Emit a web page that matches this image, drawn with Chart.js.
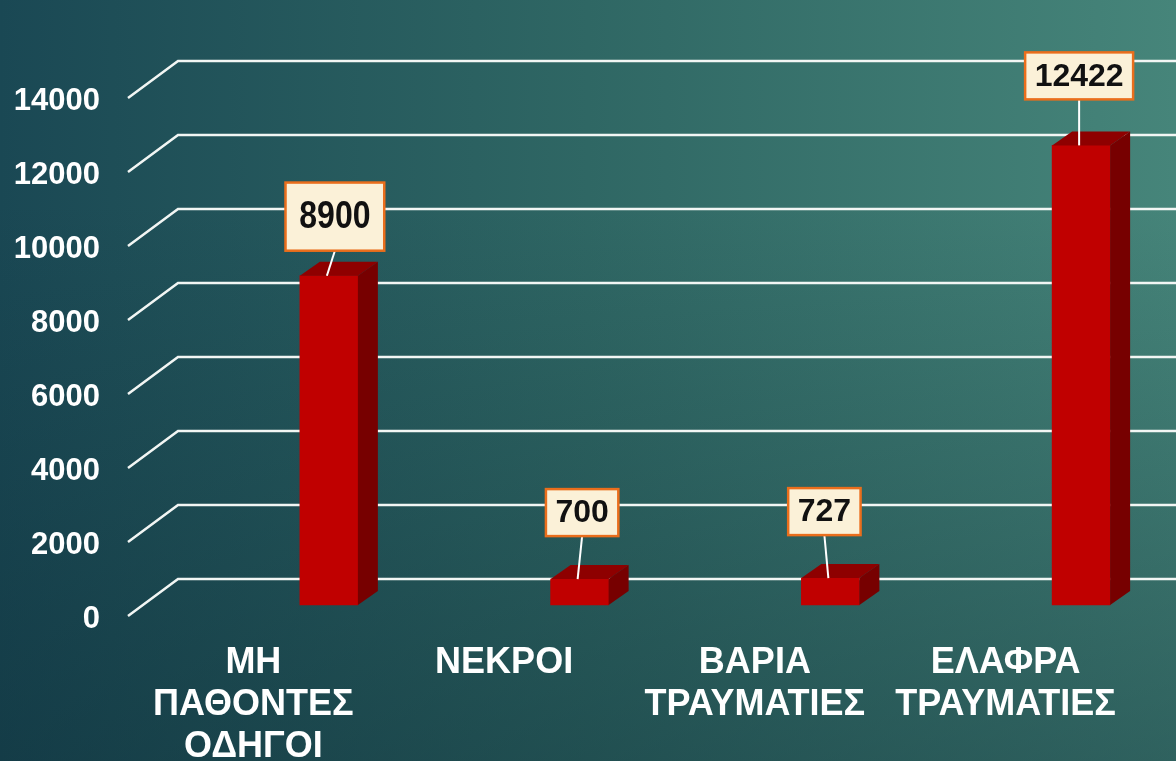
<!DOCTYPE html>
<html>
<head>
<meta charset="utf-8">
<script src="https://cdn.jsdelivr.net/npm/chart.js@4.4.1/dist/chart.umd.min.js"></script>
<style>
  html, body { margin: 0; padding: 0; background: #1d4d57; }
  canvas { display: block; }
</style>
</head>
<body>
<canvas id="chart" width="1176" height="761"></canvas>
<script>
// data
const categories = [
  ["ΜΗ", "ΠΑΘΟΝΤΕΣ", "ΟΔΗΓΟΙ"],
  ["ΝΕΚΡΟΙ"],
  ["ΒΑΡΙΑ", "ΤΡΑΥΜΑΤΙΕΣ"],
  ["ΕΛΑΦΡΑ", "ΤΡΑΥΜΑΤΙΕΣ"],
];
const values = [8900, 700, 727, 12422];
const yTicks = [0, 2000, 4000, 6000, 8000, 10000, 12000, 14000];
const yTickLabels = ["0", "2000", "4000", "6000", "8000", "10000", "12000", "14000"];

const FONT = '"Liberation Sans", Arial, sans-serif';

// fake 3d: back wall grid, bar tops/sides and callout boxes
const bar3d = {
  id: "bar3d",
  beforeDraw(chart) {
    const { ctx, width, height } = chart;
    ctx.save();
    let g = ctx.createLinearGradient(0, 0, width, 0);
    g.addColorStop(0, "#1a4854");
    g.addColorStop(0.5, "#2f6764");
    g.addColorStop(1, "#46857a");
    ctx.fillStyle = g;
    ctx.fillRect(0, 0, width, height);
    g = ctx.createLinearGradient(0, 200, 0, height);
    g.addColorStop(0, "rgba(10,40,50,0)");
    g.addColorStop(1, "rgba(10,40,50,0.38)");
    ctx.fillStyle = g;
    ctx.fillRect(0, 0, width, height);
    ctx.restore();
  },
  beforeDatasetsDraw(chart, args, opts) {
    const { ctx, chartArea } = chart;
    const y = chart.scales.y;
    ctx.save();
    ctx.strokeStyle = "#f2f6f4";
    ctx.lineWidth = 2.5;
    y.ticks.forEach((t) => {
      const yb = y.getPixelForValue(t.value);
      ctx.beginPath();
      ctx.moveTo(chartArea.left, yb + opts.front);
      ctx.lineTo(chartArea.left + opts.wallX, yb - opts.back);
      ctx.lineTo(chart.width, yb - opts.back);
      ctx.stroke();
    });
    ctx.restore();
    // shift the bars to the right inside their category
    ctx.save();
    ctx.translate(opts.shift, 0);
  },
  afterDatasetsDraw(chart, args, opts) {
    const { ctx } = chart;
    const meta = chart.getDatasetMeta(0);
    const dx = opts.depthX, dy = opts.depthY;
    meta.data.forEach((bar, i) => {
      const l = bar.x - bar.width / 2, r = bar.x + bar.width / 2;
      const top = bar.y, base = bar.base;
      ctx.fillStyle = "#8e0000";
      ctx.beginPath();
      ctx.moveTo(l, top);
      ctx.lineTo(r, top);
      ctx.lineTo(r + dx, top - dy);
      ctx.lineTo(l + dx, top - dy);
      ctx.closePath();
      ctx.fill();
      ctx.fillStyle = "#770000";
      ctx.beginPath();
      ctx.moveTo(r, top);
      ctx.lineTo(r + dx, top - dy);
      ctx.lineTo(r + dx, base - dy);
      ctx.lineTo(r, base);
      ctx.closePath();
      ctx.fill();
    });

    // callouts
    meta.data.forEach((bar, i) => {
      const lo = opts.labels[i];
      const txt = String(chart.data.datasets[0].data[i]);
      ctx.font = "bold 32px " + FONT;
      const tw = ctx.measureText(txt).width;
      const padX = 9.5 * lo.box, h = 47 * lo.box;
      const w = tw + 2 * padX;
      const cx = bar.x + lo.dx;
      const bottom = bar.y - lo.gap;
      const top = bottom - h;
      ctx.strokeStyle = "#ffffff";
      ctx.lineWidth = 2;
      ctx.beginPath();
      ctx.moveTo(cx, bottom);
      ctx.lineTo(bar.x - 2, bar.y);
      ctx.stroke();
      ctx.fillStyle = "#fbf1d8";
      ctx.fillRect(cx - w / 2, top, w, h);
      ctx.strokeStyle = "#ea6e1c";
      ctx.lineWidth = 2.5;
      ctx.strokeRect(cx - w / 2, top, w, h);
      ctx.save();
      ctx.translate(cx, top + h / 2 + 1);
      ctx.scale(1, lo.text);
      ctx.fillStyle = "#111111";
      ctx.textAlign = "center";
      ctx.textBaseline = "middle";
      ctx.fillText(txt, 0, 0);
      ctx.restore();
    });
    ctx.restore();
  },
};

new Chart(document.getElementById("chart"), {
  type: "bar",
  data: {
    labels: categories,
    datasets: [
      {
        data: values,
        backgroundColor: "#c00000",
        borderWidth: 0,
        barThickness: 58,
        clip: false,
      },
    ],
  },
  plugins: [bar3d],
  options: {
    responsive: false,
    animation: false,
    layout: { padding: { top: 87, right: 45, left: 0, bottom: 0 } },
    plugins: {
      legend: { display: false },
      tooltip: { enabled: false },
      bar3d: {
        shift: 75.5,
        wallX: 50,
        front: 11,
        back: 26,
        depthX: 20,
        depthY: 14,
        labels: [
          { dx: 6, gap: 25, box: 1.45, text: 1.22 },
          { dx: 2.5, gap: 43, box: 1, text: 1 },
          { dx: -6, gap: 43, box: 1, text: 1 },
          { dx: -2, gap: 46, box: 1, text: 1 },
        ],
      },
    },
    scales: {
      x: {
        grid: { display: false, drawTicks: false },
        border: { display: false },
        ticks: {
          color: "#ffffff",
          font: { family: FONT, size: 36, weight: "bold", lineHeight: 1.17 },
          padding: 37,
          maxRotation: 0,
          autoSkip: false,
        },
        afterFit(s) { s.height = 156; },
      },
      y: {
        min: 0,
        max: 14000,
        grid: { display: false, drawTicks: false },
        border: { display: false },
        ticks: {
          stepSize: 2000,
          color: "#ffffff",
          font: { family: FONT, size: 31, weight: "bold" },
          padding: 28,
          labelOffset: 14,
          callback: (v) => yTickLabels[yTicks.indexOf(v)],
        },
        afterFit(s) { s.width = 128; },
      },
    },
  },
});
</script>
</body>
</html>
